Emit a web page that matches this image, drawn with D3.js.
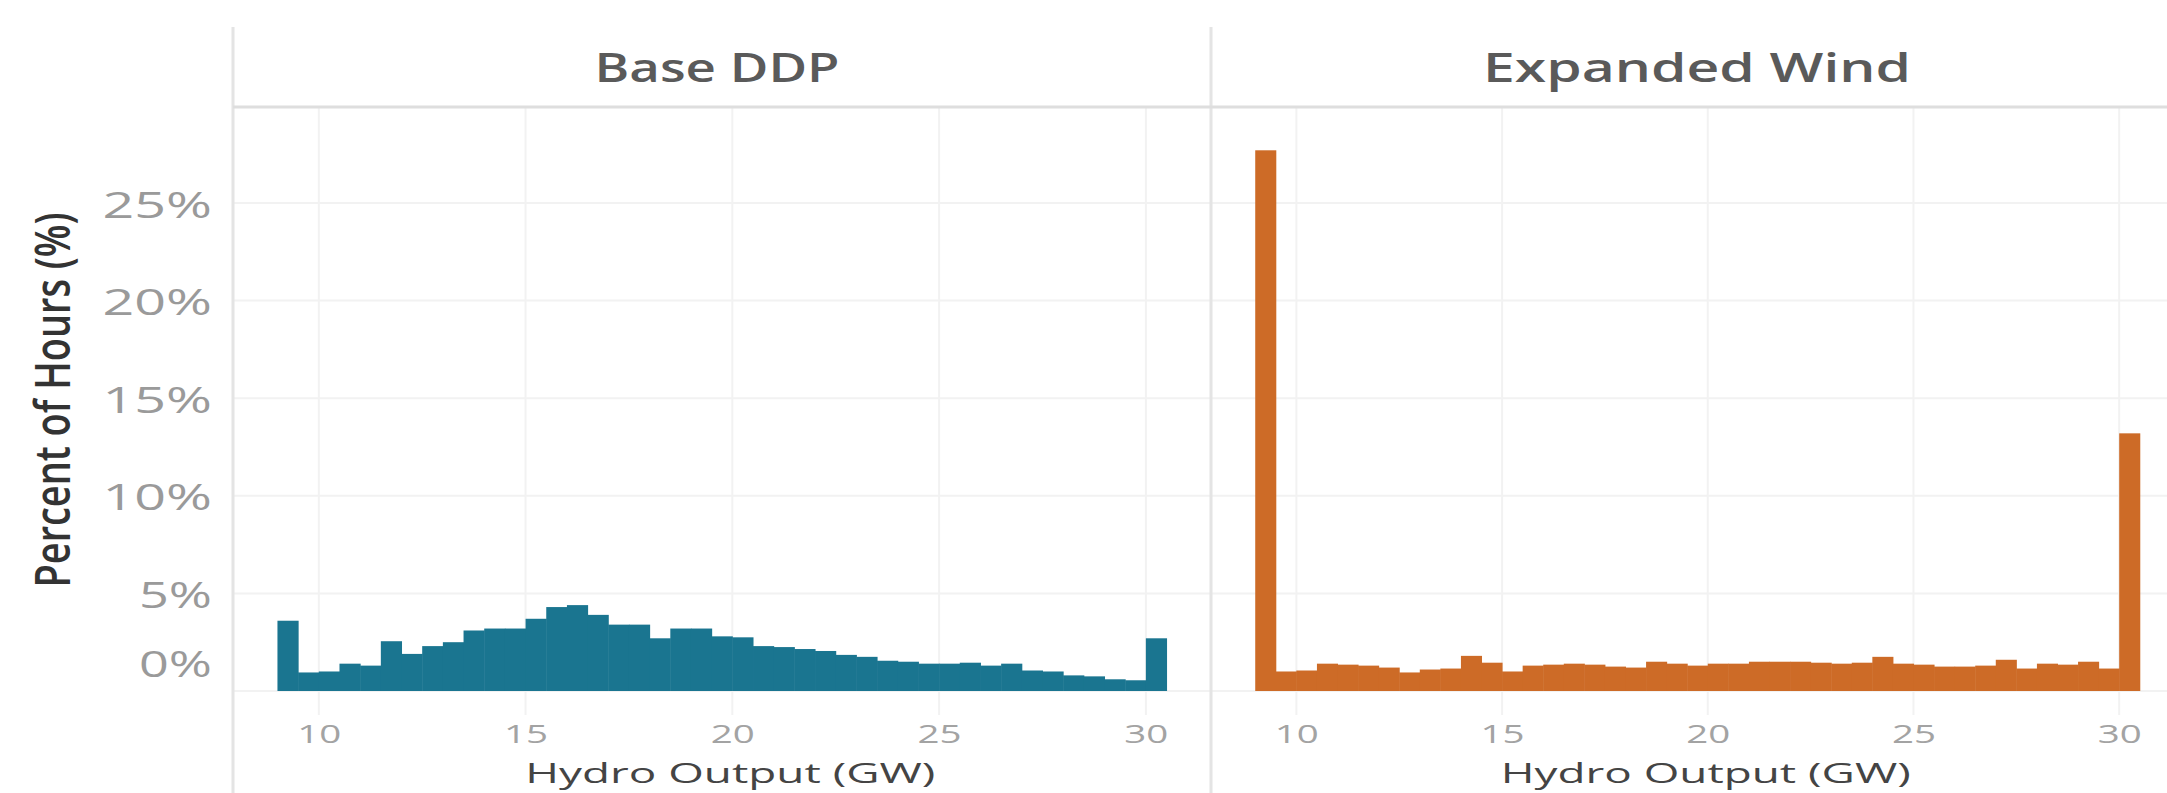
<!DOCTYPE html>
<html>
<head>
<meta charset="utf-8">
<script src="https://cdn.jsdelivr.net/npm/d3@7"></script>
<style>
  html, body { margin: 0; padding: 0; background: #fff; }
  svg { display: block; font-family: "Open Sans", "Noto Sans", sans-serif; }
</style>
</head>
<body>
<svg id="chart"></svg>
<script>
// left edge of each histogram bin (GW), bins are 0.5 GW wide
var binEdges = [9, 9.5, 10, 10.5, 11, 11.5, 12, 12.5, 13, 13.5, 14, 14.5, 15, 15.5, 16, 16.5,
  17, 17.5, 18, 18.5, 19, 19.5, 20, 20.5, 21, 21.5, 22, 22.5, 23, 23.5, 24, 24.5,
  25, 25.5, 26, 26.5, 27, 27.5, 28, 28.5, 29, 29.5, 30];
var binWidth = 0.5;

var panels = ["Base DDP", "Expanded Wind"];
var colors = ["#1a7590", "#cd6b27"];

// percent of hours per bin
var baseDDP = [3.6, 0.95, 1.0, 1.4, 1.3, 2.55, 1.9, 2.3, 2.5, 3.1, 3.2, 3.2, 3.7, 4.3, 4.4, 3.9,
  3.4, 3.4, 2.7, 3.2, 3.2, 2.8, 2.75, 2.3, 2.25, 2.15, 2.05, 1.85, 1.75, 1.55, 1.5, 1.4,
  1.4, 1.45, 1.3, 1.4, 1.05, 1.0, 0.8, 0.75, 0.6, 0.55, 2.7];
var expandedWind = [27.7, 1.0, 1.05, 1.4, 1.35, 1.3, 1.2, 0.95, 1.1, 1.15, 1.8, 1.45, 1.0, 1.3, 1.35, 1.4,
  1.35, 1.25, 1.2, 1.5, 1.4, 1.3, 1.4, 1.4, 1.5, 1.5, 1.5, 1.45, 1.4, 1.45, 1.75, 1.4,
  1.35, 1.25, 1.25, 1.3, 1.6, 1.15, 1.4, 1.35, 1.5, 1.15, 13.2];

var xTicks = [10, 15, 20, 25, 30];
var yTicks = [0, 5, 10, 15, 20, 25];

var series = [baseDDP, expandedWind];

var svgWidth = 2167, svgHeight = 793;
var panelLeft = [233, 1211], panelW = [978, 973];
var stripTop = 27, plotTop = 107, plotBottom = 715;

var svg = d3.select("#chart")
  .attr("width", svgWidth)
  .attr("height", svgHeight);

var y = d3.scaleLinear().domain([0, 25]).range([691, 203]);

panels.forEach(function(name, p) {
  var x0 = panelLeft[p], w = panelW[p];
  var x = d3.scaleLinear().domain([7.925, 31.575]).range([x0, x0 + w]);
  var g = svg.append("g");

  // grid
  g.append("g")
    .selectAll("line")
    .data(yTicks)
    .enter().append("line")
    .attr("x1", x0).attr("x2", x0 + w)
    .attr("y1", function(d) { return y(d); })
    .attr("y2", function(d) { return y(d); })
    .attr("stroke", "#f2f2f2").attr("stroke-width", 2);

  g.append("g")
    .selectAll("line")
    .data(xTicks)
    .enter().append("line")
    .attr("x1", function(d) { return x(d); })
    .attr("x2", function(d) { return x(d); })
    .attr("y1", plotTop).attr("y2", plotBottom)
    .attr("stroke", "#f2f2f2").attr("stroke-width", 2);

  // bars
  g.append("g")
    .selectAll("rect")
    .data(series[p])
    .enter().append("rect")
    .attr("x", function(d, i) { return x(binEdges[i]); })
    .attr("width", function(d, i) { return x(binEdges[i] + binWidth) - x(binEdges[i]) + 0.5; })
    .attr("y", function(d) { return y(d); })
    .attr("height", function(d) { return y(0) - y(d); })
    .attr("fill", colors[p]);

  // x axis
  var xa = g.append("g")
    .attr("transform", "translate(0," + y(0) + ")")
    .call(d3.axisBottom(x).tickValues(xTicks).tickSize(0).tickPadding(34));
  xa.select(".domain").remove();
  xa.selectAll("text")
    .attr("font-size", 25)
    .attr("fill", "#a3a3a3")
    .attr("font-family", "Open Sans, sans-serif")
    .attr("textLength", function(d) { return String(d).length * 22; })
    .attr("lengthAdjust", "spacingAndGlyphs");

  g.append("text")
    .attr("x", x(19.95))
    .attr("y", 783)
    .attr("text-anchor", "middle")
    .attr("font-size", 28)
    .attr("fill", "#444")
    .attr("textLength", 410)
    .attr("lengthAdjust", "spacingAndGlyphs")
    .text("Hydro Output (GW)");

  // strip title
  g.append("text")
    .attr("x", p === 0 ? 717 : 1697)
    .attr("y", 82)
    .attr("text-anchor", "middle")
    .attr("font-size", 40)
    .attr("font-weight", 600)
    .attr("fill", "#5a5a5a")
    .attr("textLength", p === 0 ? 245 : 428)
    .attr("lengthAdjust", "spacingAndGlyphs")
    .text(name);

  // panel frame line
  g.append("line")
    .attr("x1", x0).attr("x2", x0)
    .attr("y1", stripTop).attr("y2", svgHeight)
    .attr("stroke", "#e4e4e4").attr("stroke-width", 3);
});

// strip bottom line
svg.append("line")
  .attr("x1", panelLeft[0]).attr("x2", svgWidth)
  .attr("y1", plotTop).attr("y2", plotTop)
  .attr("stroke", "#dedede").attr("stroke-width", 3);

// y axis
var ya = svg.append("g")
  .attr("transform", "translate(" + panelLeft[0] + ",0)")
  .call(d3.axisLeft(y).tickValues(yTicks).tickSize(0).tickPadding(21)
    .tickFormat(function(d) { return d + "%"; }));
ya.select(".domain").remove();
ya.selectAll("text")
  .attr("font-size", 37)
  .attr("fill", "#9a9a9a")
  .attr("font-family", "Open Sans, sans-serif")
  .attr("textLength", function(d) { return (d + "%").length * 36.5; })
  .attr("lengthAdjust", "spacingAndGlyphs")
  .attr("dy", function(d) { return d === 0 ? "-0.4em" : "0.38em"; });

svg.append("text")
  .attr("transform", "translate(70,400) rotate(-90)")
  .attr("text-anchor", "middle")
  .attr("font-size", 48)
  .attr("font-weight", 600)
  .attr("fill", "#333")
  .attr("textLength", 375)
  .attr("lengthAdjust", "spacingAndGlyphs")
  .text("Percent of Hours (%)");
</script>
</body>
</html>
